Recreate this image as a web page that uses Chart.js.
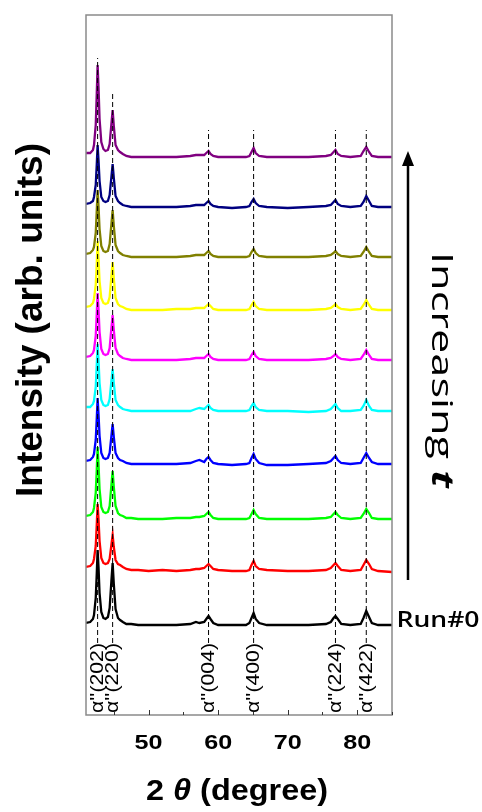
<!DOCTYPE html>
<html>
<head>
<meta charset="utf-8">
<script src="https://cdn.jsdelivr.net/npm/chart.js@4.4.1/dist/chart.umd.min.js"></script>
<style>
  html, body { margin: 0; padding: 0; background: #fff; }
  #wrap { width: 482px; height: 812px; }
</style>
</head>
<body>
<div id="wrap"><canvas id="xrd" width="482" height="812"></canvas></div>
<script>
// 2θ sampling positions (degrees), denser around the peaks
const twoTheta = [41.0, 41.6, 42.0, 42.15, 42.4, 42.55, 42.67, 42.8, 42.95, 43.2,
  43.5, 43.8, 44.15, 44.4, 44.65, 44.83, 45.0, 45.25, 45.6, 45.9,
  46.3, 46.8, 47.5, 48.5, 50.0, 52.0, 54.0, 56.0, 56.8, 57.3,
  58.0, 58.3, 58.62, 58.9, 59.3, 60.0, 62.0, 64.0, 64.5, 64.8,
  65.1, 65.4, 65.9, 67.0, 70.0, 73.0, 75.5, 76.2, 76.6, 76.87,
  77.2, 77.7, 79.0, 80.5, 80.9, 81.3, 81.7, 82.1, 83.0, 85.0];

// intensity above each trace's own baseline (arb. units)
const run0 = [2, 3, 6, 10, 27, 52, 75, 58, 32, 13, 7, 6, 8, 17, 44, 62, 41, 16, 7, 5, 3, 1, 1, 0, 0, 0, 0, 1, 3, 2, 3, 6, 9, 6, 2, 0, 0, 0, 2, 7, 12, 6, 2, 0, 0, 0, 1, 3, 7, 9, 6, 1, 0, 1, 7, 14, 8, 2, 0, 0];
const run1 = [4, 5, 8, 12, 25, 47, 67, 52, 30, 13, 8, 7, 8, 12, 26, 36, 24, 11, 7, 6, 4, 2, 1, 1, 0, 1, 0, 1, 2, 2, 3, 5, 7, 5, 2, 1, 0, 0, 1, 6, 10, 5, 2, 1, 0, 0, 1, 3, 6, 8, 5, 1, 0, 1, 6, 11, 7, 2, 0, -1];
const run2 = [3, 4, 7, 11, 26, 50, 72, 55, 30, 12, 7, 6, 7, 13, 34, 48, 32, 13, 6, 4, 3, 1, 1, 0, 0, 0, 1, 1, 2, 2, 3, 5, 7, 4, 1, 0, 0, 0, 1, 5, 9, 5, 1, 0, 0, 0, 1, 2, 5, 7, 4, 1, 0, 1, 5, 10, 6, 1, 0, 0];
const run3 = [3, 4, 7, 10, 24, 46, 66, 50, 28, 11, 6, 5, 6, 11, 28, 40, 27, 11, 6, 4, 3, 1, 0, 0, 0, 0, 0, 1, 3, 4, 2, 5, 7, 4, 1, 0, -1, 0, 1, 6, 10, 5, 1, -1, -1, 0, 1, 3, 6, 8, 4, 1, 0, 1, 6, 11, 6, 2, 0, 0];
const run4 = [4, 4, 7, 10, 24, 47, 67, 51, 28, 11, 6, 5, 6, 12, 30, 42, 28, 11, 6, 4, 2, 1, 0, 0, 0, 0, 0, 0, 2, 3, 2, 4, 6, 3, 1, 0, 0, 0, 1, 5, 8, 4, 1, 0, 0, -1, 0, 2, 5, 7, 3, 0, 0, 1, 5, 11, 5, 1, 0, 0];
const run5 = [3, 4, 7, 10, 24, 47, 67, 51, 28, 11, 6, 5, 6, 12, 32, 45, 30, 12, 6, 4, 2, 1, 0, 0, 0, 0, 0, 1, 2, 2, 2, 4, 6, 3, 1, 0, 0, 0, 1, 5, 8, 4, 1, 0, 0, 0, 1, 2, 4, 6, 3, 1, 0, 1, 5, 10, 5, 1, 0, 0];
const run6 = [3, 4, 7, 11, 25, 48, 69, 52, 29, 12, 7, 6, 7, 13, 34, 48, 32, 12, 6, 4, 3, 1, 0, 0, 0, 0, 1, 1, 2, 2, 2, 4, 6, 4, 1, 0, 0, 0, 1, 5, 8, 4, 1, 0, 0, 0, 1, 2, 4, 6, 3, 1, 0, 1, 5, 10, 5, 1, 0, 0];
const run7 = [3, 4, 7, 10, 24, 47, 67, 51, 28, 11, 6, 5, 6, 13, 33, 47, 31, 12, 6, 4, 2, 1, 0, 0, 0, 0, 0, 1, 2, 2, 2, 4, 6, 3, 1, 0, 0, 0, 1, 5, 8, 4, 1, 0, 0, 0, 1, 2, 4, 6, 3, 1, 0, 1, 5, 10, 5, 1, 0, 0];
const run8 = [3, 4, 6, 10, 22, 43, 62, 47, 26, 10, 6, 5, 6, 12, 30, 43, 29, 11, 6, 4, 2, 1, 0, 0, 0, 0, 0, 1, 2, 2, 2, 4, 6, 3, 1, 0, -1, 0, 1, 5, 8, 4, 1, 0, -1, 0, 1, 2, 5, 7, 3, 1, 0, 1, 5, 11, 6, 1, 0, 0];
const run9 = [4, 4, 7, 12, 32, 64, 92, 70, 38, 15, 8, 6, 7, 13, 33, 47, 31, 12, 7, 5, 3, 1, 0, 0, 0, 0, 0, 1, 2, 2, 2, 4, 6, 3, 1, 0, 0, 0, 1, 5, 9, 4, 1, 0, 0, 0, 1, 2, 5, 7, 3, 1, 0, 1, 6, 10, 5, 1, 0, 0];

const runs = [run0, run1, run2, run3, run4, run5, run6, run7, run8, run9];
const runOffsets = [90, 144, 196, 251, 304, 355, 405, 458, 508, 558];
const runColors = ['#000000', '#ff0000', '#00ff00', '#0000ff', '#00ffff',
  '#ff00ff', '#ffff00', '#808000', '#000080', '#800080'];

// reflections marked with dashed lines
const peakPos = [42.67, 44.83, 58.62, 65.1, 76.87, 81.3];
const peakNames = ["α''(202)", "α''(220)", "α''(004)", "α''(400)", "α''(224)", "α''(422)"];
const peakLineTop = [657, 622, 585, 585, 585, 585];
const peakLineBottom = 72;

const xTicks = [50, 60, 70, 80];
const xMinorTicks = [45, 55, 65, 75, 85];

const datasets = [];
peakPos.forEach((p, i) => {
  datasets.push({
    data: [{ x: p, y: peakLineBottom }, { x: p, y: peakLineTop[i] }],
    borderColor: '#000',
    borderWidth: 1,
    borderDash: [5, 3],
    pointRadius: 0,
    order: 0,
  });
});
runs.forEach((r, i) => {
  datasets.push({
    data: r.map((v, j) => ({ x: twoTheta[j], y: runOffsets[i] + v })),
    borderColor: runColors[i],
    borderWidth: 2.3,
    pointRadius: 0,
    tension: 0,
    order: i + 1,
  });
});

// text squeezed/stretched to a given length along its direction
const fitText = (ctx, parts, x, y, angle, len) => {
  ctx.save();
  ctx.translate(x, y);
  ctx.rotate(angle);
  let w = 0;
  parts.forEach((p) => { ctx.font = p.font; w += ctx.measureText(p.t).width; });
  ctx.scale(len / w, 1);
  ctx.textBaseline = 'middle';
  ctx.textAlign = 'left';
  ctx.fillStyle = '#000';
  let cx = -w / 2;
  parts.forEach((p) => {
    ctx.font = p.font;
    ctx.fillText(p.t, cx, 0);
    cx += ctx.measureText(p.t).width;
  });
  ctx.restore();
};

const decorations = {
  id: 'decorations',
  afterDraw(chart) {
    const { ctx, chartArea: a, scales } = chart;
    const xs = scales.x;
    ctx.save();
    // frame
    ctx.strokeStyle = '#8a8a8a';
    ctx.lineWidth = 1.5;
    ctx.strokeRect(a.left, a.top, a.right - a.left, a.bottom - a.top);
    // inward ticks
    ctx.strokeStyle = '#333';
    ctx.lineWidth = 1;
    xTicks.forEach((t) => {
      const px = Math.round(xs.getPixelForValue(t)) + 0.5;
      ctx.beginPath(); ctx.moveTo(px, a.bottom); ctx.lineTo(px, a.bottom - 5); ctx.stroke();
    });
    xMinorTicks.forEach((t) => {
      const px = Math.round(xs.getPixelForValue(t)) + 0.5;
      ctx.beginPath(); ctx.moveTo(px, a.bottom); ctx.lineTo(px, a.bottom - 3); ctx.stroke();
    });
    // tick labels
    xTicks.forEach((t) => {
      fitText(ctx, [{ t: String(t), font: 'bold 21px Arial' }], xs.getPixelForValue(t), a.bottom + 28, 0, 28);
    });
    // reflection labels
    peakPos.forEach((p, i) => {
      fitText(ctx, [{ t: peakNames[i], font: '19px Arial' }], xs.getPixelForValue(p), a.bottom - 37, -Math.PI / 2, 70);
    });
    // axis titles
    fitText(ctx, [
      { t: '2', font: 'bold 30px Arial' },
      { t: ' θ', font: 'italic bold 30px Arial' },
      { t: ' (degree)', font: 'bold 30px Arial' },
    ], 237, 792, 0, 182);
    fitText(ctx, [{ t: 'Intensity (arb. units)', font: 'bold 36px Arial' }], 32, 320, -Math.PI / 2, 354);
    // increasing arrow
    ctx.strokeStyle = '#000';
    ctx.fillStyle = '#000';
    ctx.lineWidth = 2.5;
    ctx.beginPath(); ctx.moveTo(408, 580); ctx.lineTo(408, 162); ctx.stroke();
    ctx.beginPath(); ctx.moveTo(408, 151); ctx.lineTo(402, 166); ctx.lineTo(414, 166); ctx.closePath(); ctx.fill();
    fitText(ctx, [
      { t: 'Increasing ', font: '30px "Open Sans", sans-serif' },
      { t: 't', font: 'italic bold 30px "Open Sans", sans-serif' },
    ], 441, 370, Math.PI / 2, 236);
    fitText(ctx, [{ t: 'Run#0', font: '600 21px "Open Sans", sans-serif' }], 438, 621, 0, 83);
    ctx.restore();
  },
};

new Chart(document.getElementById('xrd').getContext('2d'), {
  type: 'line',
  data: { datasets },
  options: {
    responsive: false,
    animation: false,
    layout: { padding: { left: 86, right: 90, top: 15, bottom: 97 } },
    plugins: { legend: { display: false }, tooltip: { enabled: false } },
    scales: {
      x: { type: 'linear', min: 41, max: 85, display: false },
      y: { type: 'linear', min: 0, max: 700, display: false },
    },
  },
  plugins: [decorations],
});
</script>
</body>
</html>
